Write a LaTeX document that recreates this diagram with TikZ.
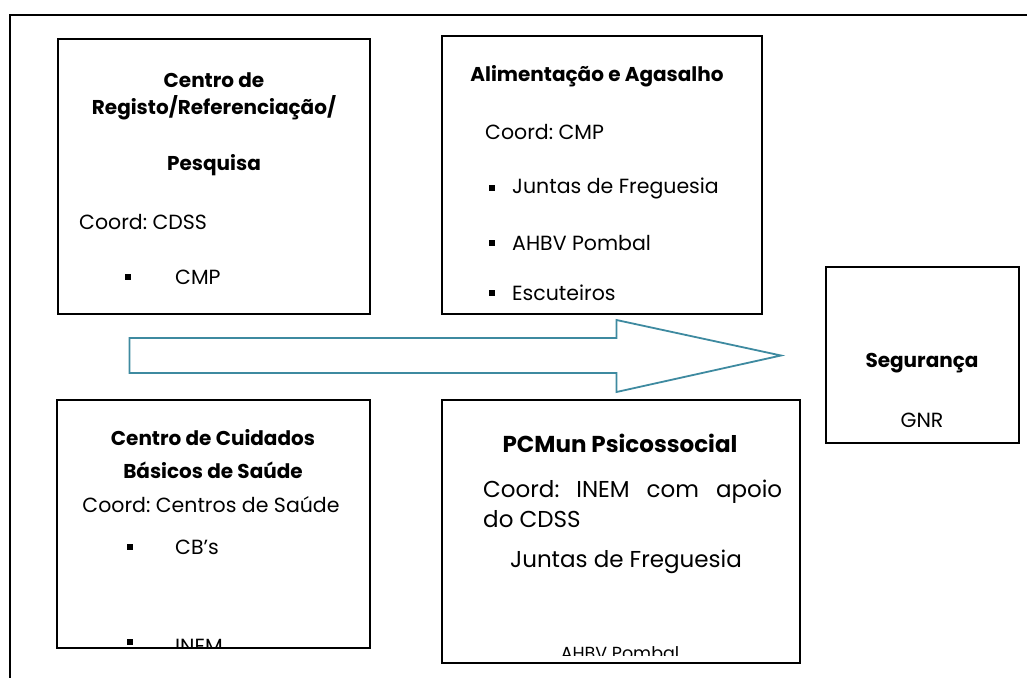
\documentclass[tikz,border=0pt]{standalone}
\usepackage{fontspec}
\setmainfont{Poppins}
\definecolor{arrowteal}{RGB}{62,138,160}
\tikzset{
  panel/.style={draw=black, line width=1.6pt, inner sep=0pt},
  ttl/.style={font=\bfseries\fontsize{20}{23}\selectfont, inner sep=0pt},
  txt/.style={font=\fontsize{20.5}{24}\selectfont, inner sep=0pt},
  bigttl/.style={font=\bfseries\fontsize{23}{26}\selectfont, inner sep=0pt},
  bigtxt/.style={font=\fontsize{23}{26}\selectfont, inner sep=0pt},
  smalltxt/.style={font=\fontsize{17.5}{20}\selectfont, inner sep=0pt},
  bul/.style={fill=black, minimum size=5.5pt, inner sep=0pt},
  bigarrow/.style={draw=arrowteal, line width=1.8pt, line join=miter}
}
\begin{document}
\frenchspacing
\begin{tikzpicture}[x=1pt,y=-1pt]
\useasboundingbox (0,0) rectangle (1027,677);
\clip (0,0) rectangle (1027,677);
% outer frame
\draw[line width=2.2pt] (10,700) -- (10,15) -- (1050,15);

% panels
\draw[panel] (58,39) rectangle (370,314);
\node[inner sep=0pt] (b1) at (214,176) {};
\draw[panel] (442,36) rectangle (762,314);
\node[inner sep=0pt] (b2) at (602,175) {};
\draw[panel] (57,400) rectangle (370,648);
\node[inner sep=0pt] (b3) at (213,524) {};
\draw[panel] (442,400) rectangle (800,663);
\node[inner sep=0pt] (b4) at (621,531) {};
\draw[panel] (826,267) rectangle (1019,443);
\node[inner sep=0pt] (b5) at (922,355) {};

% box 1
\node[ttl] (t1a) at (214,80) {Centro de};
\node[ttl] (t1b) at (214,108) {Registo/Referenciação/};
\node[ttl] (t1c) at (214,165) {Pesquisa};
\node[txt, anchor=west] (t1d) at (79,222) {Coord: CDSS};
\node[bul] (t1e) at (128,277) {};
\node[txt, anchor=west] (t1f) at (175,277) {CMP};

% box 2
\node[ttl] (t2a) at (597,76) {Alimentação e Agasalho};
\node[txt, anchor=west] (t2b) at (485,132) {Coord: CMP};
\node[bul] (t2c) at (492,188) {};
\node[txt, anchor=west] (t2d) at (512,188) {Juntas de Freguesia};
\node[bul] (t2e) at (492,243) {};
\node[txt, anchor=west] (t2f) at (512,243) {AHBV Pombal};
\node[bul] (t2g) at (492,293) {};
\node[txt, anchor=west] (t2h) at (512,293) {Escuteiros};

% arrow
\draw[bigarrow] (129.5,338) -- (616.5,338) -- (616.5,320) -- (781,355.5)
  -- (616.5,392) -- (616.5,373) -- (129.5,373) -- cycle;

% box 3
\node[ttl] (t3a) at (213,438) {Centro de Cuidados};
\node[ttl] (t3b) at (213,470) {Básicos de Saúde};
\node[txt] (t3c) at (211,505) {Coord: Centros de Saúde};
\node[bul] (t3d) at (130,547) {};
\node[txt, anchor=west] (t3e) at (175,547) {CB’s};
\node[bul] (t3f) at (130,642) {};
\begin{scope}
\clip (58,600) rectangle (369,646);
\node[txt, anchor=base west] (t3g) at (175,653) {INEM};
\end{scope}

% box 4
\node[bigttl] (t4a) at (620,443) {PCMun Psicossocial};
\node[bigtxt, anchor=west] (t4b) at (483,492) {\makebox[299pt][s]{Coord: INEM com apoio}};
\node[bigtxt, anchor=west] (t4c) at (483,519) {do CDSS};
\node[bigtxt] (t4d) at (626,562) {Juntas de Freguesia};
\begin{scope}
\clip (443,600) rectangle (799,655);
\node[smalltxt, anchor=base] (t4e) at (620,659) {AHBV Pombal};
\end{scope}

% box 5
\node[ttl] (t5a) at (922,363) {Segurança};
\node[txt] (t5b) at (922,420) {GNR};
\end{tikzpicture}
\end{document}
